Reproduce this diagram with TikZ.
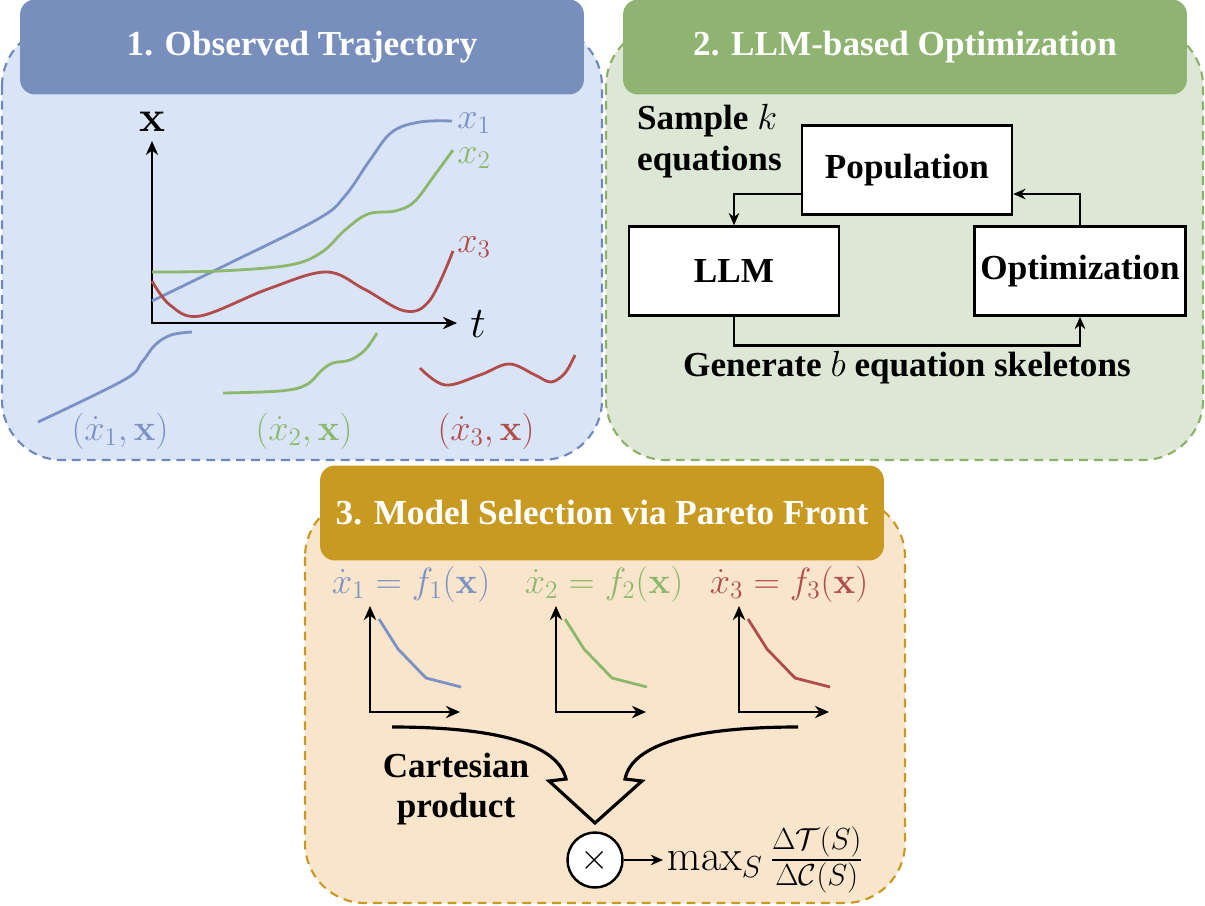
\documentclass[tikz,border=0pt]{standalone}
\usepackage{amsmath}
\usepackage[no-math]{fontspec}
\setmainfont{Liberation Serif}
\usetikzlibrary{arrows.meta}
\definecolor{hblue}{HTML}{788FBE}
\definecolor{pblue}{HTML}{DAE4F7}
\definecolor{bblue}{HTML}{6F88BB}
\definecolor{cblue}{HTML}{7B92C4}
\definecolor{hgreen}{HTML}{8FB370}
\definecolor{pgreen}{HTML}{DCE8D5}
\definecolor{bgreen}{HTML}{8AB06A}
\definecolor{cgreen}{HTML}{8BB86A}
\definecolor{hgold}{HTML}{C89A22}
\definecolor{pgold}{HTML}{F9E5CB}
\definecolor{bgold}{HTML}{C8981F}
\definecolor{cred}{HTML}{B04C4A}

\begin{document}
\begin{tikzpicture}[x=0.02cm,y=-0.02cm,
  panel/.style={line width=1.2pt,dash pattern=on 5pt off 3.5pt,rounded corners=1.2cm},
  head/.style={rounded corners=0.3cm,minimum width=11.28cm,minimum height=1.9cm,text=white,font=\fontsize{20}{24}\selectfont\bfseries},
  box/.style={draw=black,fill=white,line width=1.4pt,minimum width=4.2cm,minimum height=1.78cm,font=\fontsize{20}{24}\selectfont\bfseries},
  lbl/.style={font=\fontsize{20}{23}\selectfont\bfseries},
  eq/.style={font=\fontsize{21}{25}\selectfont,inner sep=0pt},
  curve/.style={line width=1.6pt},
  axis/.style={line width=1.5pt,{Stealth[length=8pt,width=7pt]}-{Stealth[length=8pt,width=7pt]}},
  conn/.style={line width=1.4pt,-{Stealth[length=7pt,width=6pt]}}]

  \useasboundingbox (0,0) rectangle (1205,906);

  \draw[panel,draw=bblue,fill=pblue] (2,26) rectangle (602,460);
  \draw[panel,draw=bgreen,fill=pgreen] (606,26) rectangle (1203,460);
  \draw[panel,draw=bgold,fill=pgold] (305,497) rectangle (905,903);

  \node (h1) at (302,47) [head,fill=hblue] {1. Observed Trajectory};
  \node (h2) at (905,47) [head,fill=hgreen] {2. LLM-based Optimization};
  \node (h3) at (602,513) [head,fill=hgold] {3. Model Selection via Pareto Front};

  % observed trajectory
  \draw[axis] (152,141) -- (152,323) -- (457,323);
  \node (xlab) at (152,122) [font=\fontsize{25}{28}\selectfont] {$\mathbf{x}$};
  \node (tlab) at (478,324) [font=\fontsize{28}{32}\selectfont] {$t$};

  \draw[curve,cblue] plot[smooth,tension=0.6] coordinates {(152,301) (230,263) (318,219) (345,196) (370,160) (392,132) (420,122) (452,121)};
  \draw[curve,cgreen] plot[smooth,tension=0.6] coordinates {(152,272) (220,271) (290,265) (322,252) (345,230) (368,214) (395,211) (414,202) (434,176) (453,150)};
  \draw[curve,cred] plot[smooth,tension=0.6] coordinates {(152,281) (170,305) (200,316) (268,289) (326,272) (364,289) (405,311) (430,300) (453,251)};
  \node (x1) at (457,123) [eq,cblue,anchor=west] {$x_1$};
  \node (x2) at (457,158) [eq,cgreen,anchor=west] {$x_2$};
  \node (x3) at (457,247) [eq,cred,anchor=west] {$x_3$};

  \draw[curve,cblue] plot[smooth,tension=0.6] coordinates {(38,422) (124,380) (142,362) (155,345) (171,335) (192,332)};
  \draw[curve,cgreen] plot[smooth,tension=0.6] coordinates {(223,393) (280,391) (306,385) (322,370) (333,363) (350,360) (365,350) (377,333)};
  \draw[curve,cred] plot[smooth,tension=0.6] coordinates {(420,368) (445,385) (480,375) (509,364) (535,375) (551,382) (565,373) (575,355)};
  \node (d1) at (120,431) [eq,cblue] {$(\dot{x}_1,\mathbf{x})$};
  \node (d2) at (304,431) [eq,cgreen] {$(\dot{x}_2,\mathbf{x})$};
  \node (d3) at (486,431) [eq,cred] {$(\dot{x}_3,\mathbf{x})$};

  % llm loop
  \node (samp) at (631,141) [lbl,anchor=west,align=left] {Sample $k$\\equations};
  \node (pop) at (907,170) [box] {Population};
  \node (llm) at (734,271) [box] {LLM};
  \node (opt) at (1080,271) [box] {Optimization};
  \draw[conn] ([yshift=-0.48cm]pop.west) -| (llm.north);
  \draw[conn] (opt.north) |- ([yshift=-0.48cm]pop.east);
  \draw[conn] (llm.south) -- ++(0,29) -| (opt.south);
  \node (gen) at (907,368) [lbl] {Generate $b$ equation skeletons};

  % pareto fronts
  \node (eq1) at (411,584) [eq,cblue] {$\dot{x}_1 = f_1(\mathbf{x})$};
  \node (eq2) at (604,584) [eq,cgreen] {$\dot{x}_2 = f_2(\mathbf{x})$};
  \node (eq3) at (789,584) [eq,cred] {$\dot{x}_3 = f_3(\mathbf{x})$};
  \draw[axis] (370,606) -- (370,712) -- (460,712);
  \draw[axis] (556,606) -- (556,712) -- (646,712);
  \draw[axis] (739,606) -- (739,712) -- (829,712);
  \draw[curve,cblue] (379,619) -- (398,649) -- (426,678) -- (461,687);
  \draw[curve,cgreen] (565,619) -- (584,649) -- (612,678) -- (647,687);
  \draw[curve,cred] (748,619) -- (767,649) -- (795,678) -- (830,687);

  \draw[line width=1.8pt,line join=miter] (392,727) .. controls (500,727) and (558,745) .. (566,779) -- (549,781) -- (595,823) -- (642,781) -- (625,779) .. controls (632,745) and (690,727) .. (798,727);
  \node (cart) at (456,789) [lbl,align=center] {Cartesian\\product};

  \node (prod) at (595,860) [circle,draw=black,fill=white,line width=1.4pt,minimum size=1.1cm,inner sep=0pt,font=\fontsize{20}{24}\selectfont] {$\times$};
  \node (obj) at (663,860) [anchor=west,inner sep=2pt,font=\fontsize{26}{30}\selectfont] {$\max_S \frac{\Delta\mathcal{T}(S)}{\Delta\mathcal{C}(S)}$};
  \draw[conn] (prod) -- (obj);
\end{tikzpicture}
\end{document}
